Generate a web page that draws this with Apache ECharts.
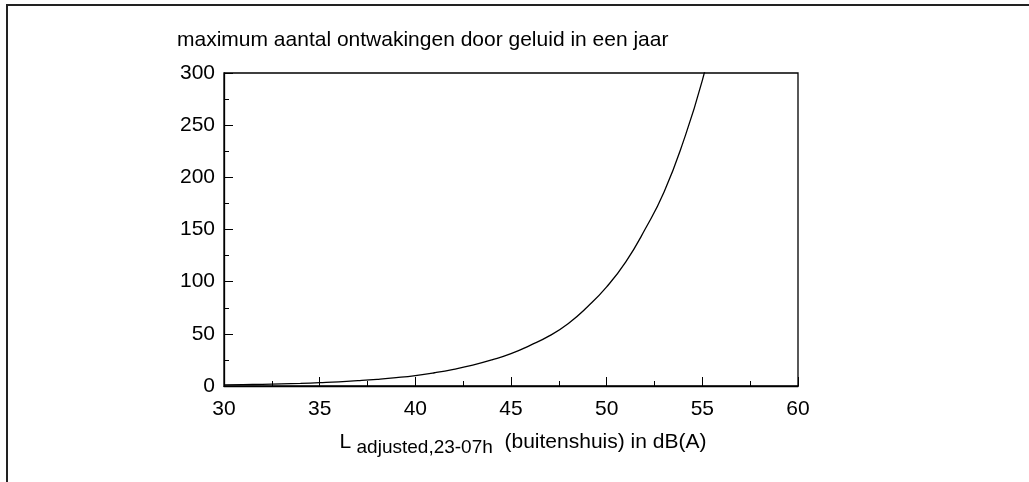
<!DOCTYPE html>
<html>
<head>
<meta charset="utf-8">
<script src="https://cdn.jsdelivr.net/npm/echarts@6/dist/echarts.min.js"></script>
<style>
  html,body{margin:0;padding:0;background:#fff;}
  #main{width:1029px;height:482px;}
</style>
</head>
<body>
<div id="main"></div>
<script>
var levels = [30, 31, 32, 33, 34, 35, 36, 37, 38, 39, 40, 41, 42, 43, 44, 45, 46, 47, 48, 49, 50, 51, 52, 53, 54, 55, 56];
var awakenings = [1.0, 1.3, 1.6, 2.0, 2.5, 3.2, 4.0, 5.1, 6.4, 8.0, 10, 12.7, 16, 20, 25, 31, 39, 48, 60, 76, 95, 119, 150, 186, 234, 293, 368];
var xTicks = [30, 35, 40, 45, 50, 55, 60];
var yTicks = [0, 50, 100, 150, 200, 250, 300];

var titleText = 'maximum aantal ontwakingen door geluid in een jaar';

var points = [];
for (var i = 0; i < levels.length; i++) {
  points.push([levels[i], awakenings[i]]);
}

var fontFam = '"Liberation Sans", Arial, sans-serif';

var myChart = echarts.init(document.getElementById('main'));

var option = {
  animation: false,
  backgroundColor: '#fff',
  title: {
    text: titleText,
    left: 172,
    top: 25,
    textStyle: { fontFamily: fontFam, fontSize: 21, fontWeight: 'normal', color: '#000' }
  },
  graphic: [{
    // kader rond de figuur (alleen links en boven zichtbaar)
    type: 'rect',
    shape: { x: 7, y: 5, width: 1200, height: 700 },
    style: { fill: 'none', stroke: '#222', lineWidth: 2 },
    silent: true
  }],
  grid: {
    left: 224,
    top: 73,
    right: 231,
    bottom: 96,
    show: true,
    borderColor: '#000',
    borderWidth: 1.3,
    backgroundColor: 'transparent'
  },
  xAxis: {
    type: 'value',
    min: xTicks[0],
    max: xTicks[xTicks.length - 1],
    interval: 5,
    name: '{l|L}{sub| adjusted,23-07h}{n|  (buitenshuis) in dB(A)}',
    nameLocation: 'middle',
    nameGap: 44,
    nameTextStyle: {
      padding: [0, 0, 0, 24],
      rich: {
        l: { fontFamily: fontFam, fontSize: 21, color: '#000', lineHeight: 24 },
        sub: { fontFamily: fontFam, fontSize: 19, color: '#000', padding: [12, 0, 0, 0], lineHeight: 24 },
        n: { fontFamily: fontFam, fontSize: 21, color: '#000', lineHeight: 24 }
      }
    },
    axisLine: { show: true, lineStyle: { color: '#000', width: 1.3 } },
    axisTick: { show: true, inside: true, length: 9, lineStyle: { color: '#000', width: 1 } },
    minorTick: { show: true, splitNumber: 2, length: 5, lineStyle: { color: '#000', width: 1 } },
    splitLine: { show: false },
    axisLabel: { fontFamily: fontFam, fontSize: 21, color: '#000', margin: 13 }
  },
  yAxis: {
    type: 'value',
    min: yTicks[0],
    max: yTicks[yTicks.length - 1],
    interval: 50,
    axisLine: { show: true, lineStyle: { color: '#000', width: 1.3 } },
    axisTick: { show: true, inside: true, length: 9, lineStyle: { color: '#000', width: 1 } },
    minorTick: { show: true, splitNumber: 2, length: 5, lineStyle: { color: '#000', width: 1 } },
    splitLine: { show: false },
    axisLabel: { fontFamily: fontFam, fontSize: 21, color: '#000', margin: 9 }
  },
  series: [{
    type: 'line',
    data: points,
    smooth: true,
    showSymbol: false,
    clip: true,
    lineStyle: { color: '#000', width: 1.3 }
  }]
};

myChart.setOption(option);
</script>
</body>
</html>
